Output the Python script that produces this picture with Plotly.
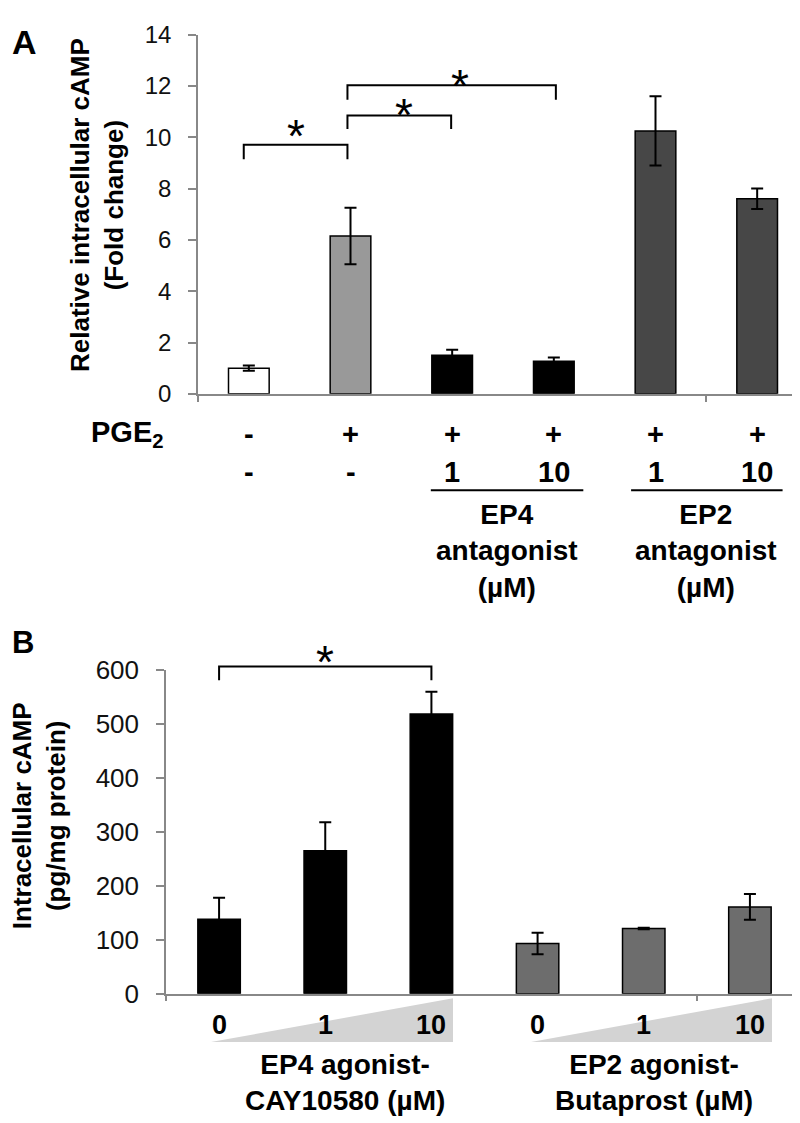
import plotly.graph_objects as go

# ---------------- data ----------------
# Panel A
catsA = ["Control", "PGE2", "PGE2+EP4 ant 1", "PGE2+EP4 ant 10", "PGE2+EP2 ant 1", "PGE2+EP2 ant 10"]
meanA = [1.0, 6.15, 1.5, 1.27, 10.25, 7.6]
errA = [0.1, 1.1, 0.22, 0.15, 1.35, 0.4]
colorsA = ["#ffffff", "#999999", "#000000", "#000000", "#474747", "#474747"]
pgeRow = ["-", "+", "+", "+", "+", "+"]
doseRowA = ["-", "-", "1", "10", "1", "10"]
yTicksA = [0, 2, 4, 6, 8, 10, 12, 14]

# Panel B
catsB = ["EP4 ag 0", "EP4 ag 1", "EP4 ag 10", "EP2 ag 0", "EP2 ag 1", "EP2 ag 10"]
meanB = [138, 265, 519, 93, 121, 161]
errB = [40, 53, 41, 20, 1.5, 24]
colorsB = ["#000000", "#000000", "#000000", "#6d6d6d", "#6d6d6d", "#6d6d6d"]
doseRowB = ["0", "1", "10", "0", "1", "10"]
yTicksB = [0, 100, 200, 300, 400, 500, 600]

W, H = 800, 1123
FONT = "Arial, Liberation Sans, sans-serif"

xdomA = [190 / W, 800 / W]
ydomA = [1 - 381 / H, 1 - 12 / H]
xdomB = [158 / W, 795 / W]
ydomB = [1 - 997.3 / H, 1 - 665 / H]
xr = [-0.5, 5.5]
yrA = [0, 14]
yrB = [0, 600]


def xp(dom, v):
    return dom[0] + (v - xr[0]) / (xr[1] - xr[0]) * (dom[1] - dom[0])


def yp(dom, rng, v):
    return dom[0] + (v - rng[0]) / (rng[1] - rng[0]) * (dom[1] - dom[0])


def pix(py):
    return 1 - py / H


xA = list(range(len(catsA)))
xB = list(range(len(catsB)))

fig = go.Figure()
fig.add_trace(go.Bar(
    x=xA, y=meanA, width=0.4, hovertext=catsA, hoverinfo="text+y",
    marker=dict(color=colorsA, line=dict(color="#000000", width=1.5)),
    error_y=dict(type="data", array=errA, color="#000000", thickness=2, width=6),
    xaxis="x", yaxis="y",
))
fig.add_trace(go.Bar(
    x=xB, y=meanB, width=0.4, hovertext=catsB, hoverinfo="text+y",
    marker=dict(color=colorsB, line=dict(color="#000000", width=1.5)),
    error_y=dict(type="data", array=errB, color="#000000", thickness=2, width=6),
    xaxis="x2", yaxis="y2",
))

axcol = "#888888"
common_x = dict(range=xr, showline=True, linecolor=axcol, linewidth=1.5, tickmode="array",
                tickvals=[-0.5, 4.5], ticks="outside", ticklen=6, tickcolor=axcol, tickwidth=1.5,
                showticklabels=False, showgrid=False, zeroline=False, fixedrange=True)
common_y = dict(showline=True, linecolor=axcol, linewidth=1.5, ticks="outside", ticklen=8,
                tickcolor=axcol, tickwidth=1.5, showgrid=False, zeroline=False, fixedrange=True,
                tickmode="array")

fig.update_layout(
    width=W, height=H, margin=dict(l=0, r=0, t=0, b=0),
    paper_bgcolor="white", plot_bgcolor="white", showlegend=False,
    font=dict(family=FONT, color="#000000"),
    xaxis=dict(domain=xdomA, anchor="y", **common_x),
    yaxis=dict(domain=ydomA, anchor="x", range=yrA, tickvals=yTicksA,
               tickfont=dict(size=24, color="#111111", family=FONT), ticklabelstandoff=12, **common_y),
    xaxis2=dict(domain=xdomB, anchor="y2", **common_x),
    yaxis2=dict(domain=ydomB, anchor="x2", range=yrB, tickvals=yTicksB,
                tickfont=dict(size=26, color="#111111", family=FONT), ticklabelstandoff=12, **common_y),
)

shapes = []
ann = []
bold = dict(family=FONT, color="#000000", weight="bold")


def line(x0, y0, x1, y1, w=2):
    shapes.append(dict(type="line", xref="paper", yref="paper", x0=x0, y0=y0, x1=x1, y1=y1,
                       line=dict(color="#000000", width=w)))


def bracket(dom, rng, ydom, x0, x1, top, leg):
    X0, X1 = xp(dom, x0), xp(dom, x1)
    T, L = yp(ydom, rng, top), yp(ydom, rng, leg)
    shapes.append(dict(type="path", xref="paper", yref="paper",
                       path=f"M {X0},{L} L {X0},{T} L {X1},{T} L {X1},{L}",
                       line=dict(color="#000000", width=2)))


def star(dom, rng, ydom, x, y, size=46):
    ann.append(dict(xref="paper", yref="paper", x=xp(dom, x), y=yp(ydom, rng, y), text="*",
                    showarrow=False, xanchor="center", yanchor="middle",
                    font=dict(size=size, family=FONT, color="#000000")))


# Panel A brackets
bracket(xdomA, yrA, ydomA, -0.05, 0.97, 9.71, 9.14)
bracket(xdomA, yrA, ydomA, 0.97, 1.99, 10.85, 10.32)
bracket(xdomA, yrA, ydomA, 0.97, 3.02, 12.03, 11.46)
star(xdomA, yrA, ydomA, 0.46, 10.05)
star(xdomA, yrA, ydomA, 1.53, 10.85)
star(xdomA, yrA, ydomA, 2.08, 12.0)

# Panel B bracket
bracket(xdomB, yrB, ydomB, 0.0, 2.0, 607, 581.6)
star(xdomB, yrB, ydomB, 1.0, 615)

# Panel letters
ann.append(dict(xref="paper", yref="paper", x=16 / W, y=pix(20), text="A", showarrow=False,
                xanchor="center", yanchor="middle", font=dict(size=34, **bold)))
ann.append(dict(xref="paper", yref="paper", x=15 / W, y=pix(636), text="B", showarrow=False,
                xanchor="center", yanchor="middle", font=dict(size=31, **bold)))

# Y titles
ann.append(dict(xref="paper", yref="paper", x=89 / W, y=pix(187),
                text="Relative intracellular cAMP<br>(Fold change)", textangle=-90, showarrow=False,
                xanchor="center", yanchor="middle", font=dict(size=26, **bold)))
ann.append(dict(xref="paper", yref="paper", x=31 / W, y=pix(815),
                text="Intracellular cAMP<br>(pg/mg protein)", textangle=-90, showarrow=False,
                xanchor="center", yanchor="middle", font=dict(size=26, **bold)))

# Panel A treatment rows
ann.append(dict(xref="paper", yref="paper", x=158 / W, y=pix(422), text="PGE<sub>2</sub>",
                showarrow=False, xanchor="right", yanchor="middle", font=dict(size=29, **bold)))
for i, s in enumerate(pgeRow):
    ann.append(dict(xref="x", yref="paper", x=xA[i], y=pix(422), text=s, showarrow=False,
                    xanchor="center", yanchor="middle", font=dict(size=29, **bold)))
for i, s in enumerate(doseRowA):
    ann.append(dict(xref="x", yref="paper", x=xA[i], y=pix(461), text=s, showarrow=False,
                    xanchor="center", yanchor="middle", font=dict(size=29, **bold)))
line(xp(xdomA, 1.79), pix(480), xp(xdomA, 3.29), pix(480))
line(xp(xdomA, 3.76), pix(480), xp(xdomA, 5.25), pix(480))
for cx, lab in [(2.54, "EP4<br>antagonist<br>(µM)"), (4.5, "EP2<br>antagonist<br>(µM)")]:
    ann.append(dict(xref="paper", yref="paper", x=xp(xdomA, cx), y=pix(543), text=lab,
                    showarrow=False, xanchor="center", yanchor="middle", align="center",
                    font=dict(size=28, **bold)))

# Panel B wedges
for x0p, x1p in [(203, 445), (523, 764)]:
    shapes.append(dict(type="path", xref="paper", yref="paper", layer="below",
                       path=f"M {x0p / W},{pix(1047)} L {x1p / W},{pix(1002)} L {x1p / W},{pix(1047)} Z",
                       fillcolor="#d3d3d3", line=dict(width=0)))
for i, s in enumerate(doseRowB):
    ann.append(dict(xref="x2", yref="paper", x=xB[i], y=pix(1030), text=s, showarrow=False,
                    xanchor="center", yanchor="middle", font=dict(size=27, **bold)))
for cx, lab in [(1.185, "EP4 agonist-<br>CAY10580 (µM)"), (4.1, "EP2 agonist-<br>Butaprost (µM)")]:
    ann.append(dict(xref="paper", yref="paper", x=xp(xdomB, cx), y=pix(1089), text=lab,
                    showarrow=False, xanchor="center", yanchor="middle", align="center",
                    font=dict(size=28, **bold)))

fig.update_layout(shapes=shapes, annotations=ann)
fig.write_html("out.html")
